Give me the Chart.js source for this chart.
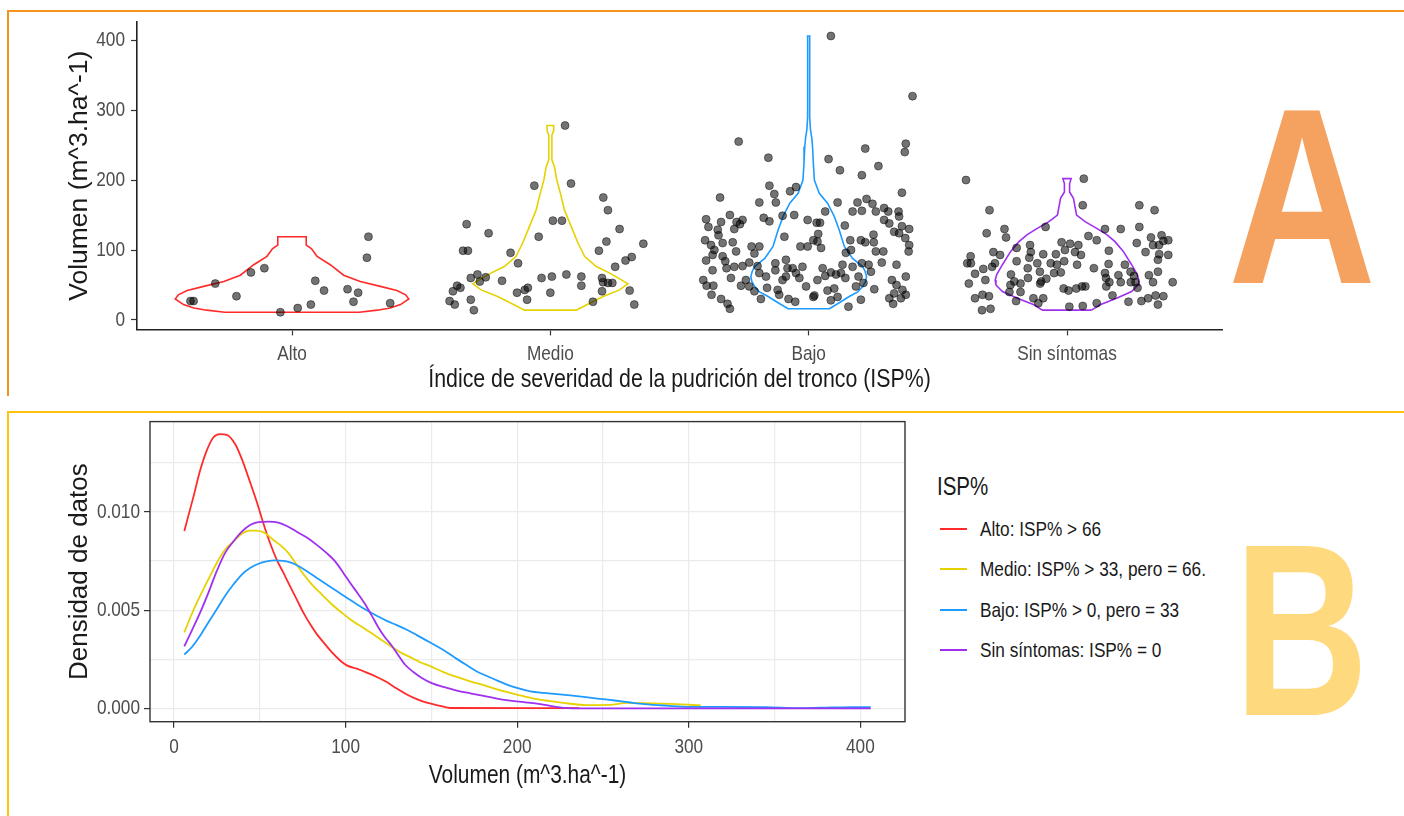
<!DOCTYPE html>
<html lang="es">
<head>
<meta charset="utf-8">
<title>Volumen según el índice de severidad de la pudrición del tronco</title>
<script src="https://cdn.jsdelivr.net/npm/chart.js@4.4.1/dist/chart.umd.min.js"></script>
<style>
	html, body { margin: 0; padding: 0; background: #fff; }
	body {
		width: 1404px;
		height: 816px;
		position: relative;
		overflow: hidden;
		font-family: 'Liberation Sans Narrow', 'Liberation Sans', Arial, sans-serif;
	}
	.rule { position: absolute; }
	.rule.orange { background: #f5931f; }
	.rule.yellow { background: #ffc20e; }
	canvas { position: absolute; }
	#violinChart { left: 0; top: 0; }
	#densityChart { left: 0; top: 405px; }
	.panel-letter {
		position: absolute;
		font-family: 'Liberation Sans', Arial, sans-serif;
		font-weight: bold;
		transform-origin: 0 0;
	}
	#letterA { left: 1228px; top: 72px; font-size: 250px; line-height: 250px; color: #f5a160; transform: scaleX(0.82); }
	#letterB { left: 1234px; top: 508px; font-size: 245px; line-height: 245px; color: #ffd97e; transform: scaleX(0.76); }
	.legend { position: absolute; left: 937px; top: 470px; color: #1a1a1a; }
	.legend .squeeze { transform: scaleX(0.82); transform-origin: 0 50%; white-space: nowrap; }
	.legend-title { position: absolute; left: 0; top: 0; font-size: 25px; line-height: 32px; }
	.legend-item { position: absolute; left: 3px; font-size: 21px; line-height: 26px; }
	.legend-item .swatch { position: absolute; left: 0; top: 12px; width: 27px; height: 2px; }
	.legend-item .label { position: absolute; left: 40px; top: 0; }
</style>
</head>
<body>

<div class="rule orange" style="left:7px; top:10px; width:1397px; height:2px;"></div>
<div class="rule orange" style="left:7px; top:10px; width:2px; height:386px;"></div>
<div class="rule yellow" style="left:7px; top:411px; width:1397px; height:2px;"></div>
<div class="rule yellow" style="left:7px; top:411px; width:2px; height:405px;"></div>

<canvas id="violinChart" width="1240" height="400"></canvas>
<canvas id="densityChart" width="920" height="411"></canvas>

<div class="legend" id="legend"></div>

<div class="panel-letter" id="letterA">A</div>
<div class="panel-letter" id="letterB">B</div>

<script>
// Categories and colours
const CATEGORIES = ['Alto', 'Medio', 'Bajo', 'Sin síntomas'];
const LEGEND_LABELS = [
	'Alto: ISP% > 66',
	'Medio: ISP% > 33, pero = 66.',
	'Bajo: ISP% > 0, pero = 33',
	'Sin síntomas: ISP% = 0',
];
const COLORS = ['#ff2b2b', '#e6d200', '#1f9bff', '#a030f0'];

// Panel A: jittered observations (offset from category centre, volume)
const ALTO_JIT = [0.296, 0.29, -0.107, -0.159, -0.297, 0.09, 0.124, -0.215, 0.215, 0.256, 0.238, 0.38, -0.393, -0.381, 0.073, 0.022, -0.045];
const ALTO_VOL = [119, 89, 74, 68, 52, 56, 42, 34, 44, 39, 26, 24, 27, 27, 22, 17, 11];

const MEDIO_JIT = [0.057, -0.062, 0.08, 0.205, 0.223, 0.01, 0.045, 0.268, -0.324, -0.239, -0.045, 0.217, 0.36, 0.188, -0.338, -0.319, -0.154, 0.315, 0.291, -0.125, 0.251, 0.062, 0.006, -0.034, 0.12, 0.12, 0.2, 0.204, 0.223, 0.24, 0.2, -0.282, -0.308, -0.273, -0.25, -0.187, -0.361, -0.348, -0.377, -0.39, -0.37, -0.308, -0.296, -0.129, -0.099, -0.087, -0.09, 0, 0.165, 0.307, 0.325];
const MEDIO_VOL = [278, 192, 195, 175, 157, 142, 142, 130, 137, 124, 119, 112, 109, 99, 99, 99, 96, 90, 85, 81, 76, 65, 62, 60, 62, 49, 60, 54, 53, 53, 41, 65, 60, 55, 61, 56, 49, 46, 41, 27, 22, 29, 14, 39, 43, 46, 29, 39, 26, 42, 22];

const BAJO_JIT = [
	-0.271, -0.156, -0.152, -0.133, -0.127, -0.072, -0.049, -0.343, -0.191, -0.397, -0.305, -0.339, -0.279, -0.256, -0.266, -0.288, -0.174, -0.152, -0.101, -0.056,
	-0.004, 0.031, -0.388, -0.352, -0.349, -0.401, -0.333, -0.294, -0.281, -0.221, -0.191, -0.094, -0.032, -0.004, 0.018, -0.378, -0.365, -0.397, -0.372, -0.333,
	-0.323, -0.318, -0.301, -0.372, -0.408, -0.395, -0.369, -0.376, -0.339, -0.314, -0.305, -0.288, -0.256, -0.23, -0.21, -0.198, -0.191, -0.165, -0.262, -0.243,
	-0.23, -0.21, -0.185, -0.161, -0.129, -0.129, -0.088, -0.082, -0.088, -0.101, -0.12, -0.114, -0.078, -0.052, -0.062, -0.049, -0.024, -0.036, -0.01, 0.022,
	0.034, 0.034,
	0.086, 0.402, 0.376, 0.372, 0.219, 0.077, 0.27, 0.121, 0.206, 0.361, 0.112, 0.189, 0.224, 0.247, 0.17, 0.206, 0.26, 0.292, 0.308, 0.348,
	0.292, 0.312, 0.35, 0.331, 0.35, 0.361, 0.389, 0.374, 0.389, 0.387, 0.044, 0.064, 0.14, 0.037, 0.048, 0.161, 0.202, 0.219, 0.251, 0.252,
	0.26, 0.289, 0.283, 0.34, 0.144, 0.164, 0.131, 0.17, 0.206, 0.232, 0.241, 0.054, 0.064, 0.086, 0.106, 0.125, 0.142, 0.193, 0.183, 0.212,
	0.254, 0.322, 0.34, 0.376, 0.363, 0.376, 0.357, 0.331, 0.312, 0.327, 0.073, 0.099, 0.086, 0.112, 0.154, 0.202, 0.018,
];
const BAJO_VOL = [
	255, 232, 192, 180, 168, 184, 190, 175, 168, 144, 150, 140, 140, 143, 137, 130, 146, 141, 149, 150,
	143, 139, 133, 129, 121, 114, 110, 111, 98, 105, 105, 119, 105, 105, 114, 107, 100, 85, 93, 91,
	84, 74, 60, 71, 57, 49, 49, 36, 30, 23, 16, 76, 77, 82, 95, 77, 67, 62, 49, 57,
	48, 41, 30, 46, 81, 71, 86, 74, 62, 57, 43, 36, 30, 26, 74, 67, 76, 60, 48, 35,
	57, 112,
	406, 320, 252, 240, 245, 230, 220, 214, 207, 182, 168, 168, 173, 166, 155, 156, 155, 160, 155, 155,
	143, 138, 148, 126, 124, 134, 130, 117, 107, 98, 139, 155, 135, 123, 103, 114, 114, 111, 122, 111,
	98, 98, 82, 79, 96, 100, 79, 76, 81, 79, 69, 74, 63, 68, 65, 67, 60, 62, 48, 53,
	44, 57, 50, 62, 43, 36, 31, 38, 31, 23, 42, 45, 28, 33, 19, 29, 33,
];

const SIN_JIT = [
	-0.391, 0.065, 0.061, -0.3, 0.28, 0.339, -0.083, -0.242, -0.311, -0.236, 0.147, 0.208, 0.28, 0.083, 0.115, 0.325, 0.366, 0.373, 0.392, 0.27,
	0.333, 0.356, -0.195, -0.143, -0.021, 0.012, 0.044, -0.285, -0.259, -0.373, -0.14, -0.092, -0.043, -0.008, 0.031, 0.054, 0.162, 0.304, 0.357, 0.392,
	0.352, -0.386, -0.372, -0.279, -0.195, -0.146, -0.115, -0.063, -0.039, -0.011, 0.039, 0.161, 0.224, 0.352, -0.324, -0.29, -0.152, -0.105, -0.05, -0.024,
	0.104, 0.147, 0.199, 0.246, 0.259, 0.317, -0.356, -0.316, -0.217, -0.204, -0.151, -0.1, -0.08, 0.151, 0.164, 0.208, 0.247, 0.265, 0.333, 0.409,
	-0.38, -0.219, -0.18, -0.104, -0.013, 0.006, 0.036, 0.058, 0.071, 0.152, 0.176, 0.238, 0.273, -0.223, -0.18, -0.197, -0.13, -0.111, -0.092, 0.009,
	0.061, 0.115, -0.356, -0.327, -0.302, -0.329, -0.296, 0.288, 0.314, 0.343, 0.373, 0.352,
];
const SIN_VOL = [
	200, 202, 164, 157, 164, 157, 133, 130, 124, 118, 130, 130, 133, 120, 114, 118, 121, 113, 114, 110,
	107, 107, 103, 107, 111, 109, 107, 97, 93, 91, 97, 94, 94, 100, 97, 93, 99, 97, 94, 93,
	86, 81, 81, 81, 84, 89, 81, 81, 79, 84, 79, 80, 79, 69, 73, 76, 74, 69, 67, 68,
	74, 67, 64, 69, 63, 64, 66, 57, 65, 55, 60, 55, 59, 60, 54, 54, 54, 54, 54, 54,
	52, 50, 52, 52, 45, 42, 45, 48, 48, 48, 35, 26, 46, 40, 40, 27, 31, 24, 31, 19,
	20, 24, 31, 36, 34, 14, 16, 27, 31, 35, 34, 22,
];

// Panel A: violin outlines (volume level, half width in category units)
const ALTO_VIOLIN_Y = [11, 14, 17, 22, 30, 36, 42, 48, 55, 64, 79, 91, 102, 107, 119];
const ALTO_VIOLIN_W = [0.26, 0.33, 0.38, 0.42, 0.452, 0.44, 0.406, 0.342, 0.264, 0.2, 0.148, 0.097, 0.075, 0.055, 0.055];
const MEDIO_VIOLIN_Y = [14, 24, 33.5, 43, 51.6, 57.4, 67, 76.4, 90.6, 110, 133.5, 157, 181, 200, 219, 229, 264, 270, 278];
const MEDIO_VIOLIN_W = [0.1, 0.152, 0.204, 0.268, 0.3, 0.275, 0.23, 0.178, 0.133, 0.107, 0.081, 0.055, 0.039, 0.025, 0.016, 0.006, 0.006, 0.012, 0.013];
const BAJO_VIOLIN_Y = [16, 25, 33.5, 40, 47.8, 55, 62, 70, 76.4, 88, 105, 129, 148, 167, 181, 200, 225, 248, 260, 272, 290, 406];
const BAJO_VIOLIN_W = [0.08, 0.12, 0.157, 0.19, 0.209, 0.22, 0.224, 0.218, 0.209, 0.17, 0.138, 0.118, 0.099, 0.073, 0.041, 0.022, 0.018, 0.015, 0.012, 0.007, 0.004, 0.004];
const SIN_VIOLIN_Y = [14, 21.7, 31, 40.7, 50, 57, 65, 79, 98, 112, 122, 131, 140.6, 150, 174, 183, 195, 202];
const SIN_VIOLIN_W = [0.095, 0.128, 0.192, 0.25, 0.275, 0.278, 0.272, 0.25, 0.218, 0.186, 0.154, 0.115, 0.07, 0.037, 0.025, 0.01, 0.01, 0.016];

const VOLUME_TICKS = [0, 100, 200, 300, 400];
const CATEGORY_TICKS = [1, 2, 3, 4];

// Panel B: density estimates (volume, density)
const ALTO_DX = [6, 11.3, 15.2, 19, 22.9, 26.8, 30.7, 35.6, 39.5, 44.3, 48.2, 52.1, 56, 59.9, 63.8, 67.6, 71.5, 75.4, 79.3, 83.2, 87.1, 91.9, 96.8, 100.7, 106.5, 112.3, 118.2, 124, 129.8, 135.7, 141.5, 147.3, 155.1, 161, 236];
const ALTO_DY = [0.00903, 0.01076, 0.0121, 0.0131, 0.01378, 0.01395, 0.01392, 0.01345, 0.01269, 0.01151, 0.01051, 0.00941, 0.0084, 0.00756, 0.00689, 0.00622, 0.00555, 0.00487, 0.00429, 0.00378, 0.00336, 0.00286, 0.00244, 0.00219, 0.00202, 0.00182, 0.0016, 0.00134, 0.00101, 0.00071, 0.00047, 0.00029, 0.00013, 0.00002, 0.00001];

const MEDIO_DX = [6, 10.3, 15.2, 20, 24.9, 29.7, 34.6, 39.5, 44.3, 48.2, 53.1, 57.9, 62.8, 66.7, 71.5, 76.4, 81.2, 86.1, 91.9, 97.8, 102.6, 108.4, 114.3, 120.1, 125.9, 131.8, 137.6, 143.4, 149.3, 157, 164.8, 172.6, 180.4, 188.2, 195.9, 203.7, 211.5, 219.3, 230, 240, 254, 264, 274, 293, 307];
const MEDIO_DY = [0.00387, 0.00479, 0.00572, 0.00656, 0.0074, 0.00807, 0.00849, 0.00888, 0.00904, 0.00904, 0.00891, 0.00857, 0.00824, 0.0079, 0.00731, 0.00672, 0.00622, 0.0058, 0.0053, 0.00487, 0.00454, 0.0042, 0.00387, 0.00353, 0.00319, 0.00286, 0.00261, 0.00235, 0.00215, 0.00185, 0.0016, 0.00138, 0.00118, 0.00097, 0.00079, 0.00062, 0.00047, 0.00037, 0.00025, 0.00017, 0.00018, 0.00028, 0.00027, 0.00022, 0.00015];

const BAJO_DX = [6, 10.3, 15.2, 20, 24.9, 29.7, 34.6, 39.5, 44.3, 49.2, 54, 58.9, 63.8, 68.6, 73.5, 78.3, 83.2, 89, 94.8, 100.7, 106.5, 112.3, 118.2, 124, 129.8, 135.7, 141.5, 147.3, 153.2, 159, 164.8, 170.7, 176.5, 182.3, 188.1, 194, 199.8, 207.6, 215.4, 223.1, 230.9, 240, 250, 258, 266, 274, 287, 300, 320, 345, 365, 383, 395, 406];
const BAJO_DY = [0.00274, 0.00311, 0.0037, 0.00437, 0.00504, 0.00572, 0.0063, 0.00681, 0.00714, 0.00736, 0.00748, 0.00753, 0.00751, 0.0074, 0.00719, 0.00693, 0.00664, 0.0063, 0.00597, 0.00563, 0.0053, 0.00499, 0.00471, 0.00445, 0.00424, 0.004, 0.00373, 0.00345, 0.00316, 0.00286, 0.00252, 0.00219, 0.00188, 0.00165, 0.00143, 0.00121, 0.00104, 0.00087, 0.00079, 0.00073, 0.00066, 0.00057, 0.00047, 0.00039, 0.0003, 0.00022, 0.00014, 0.00008, 0.00008, 0.00006, 0.00001, 0.00005, 0.00007, 0.00007];

const SIN_DX = [6, 10.3, 15.2, 20, 24.9, 29.7, 34.6, 39.5, 44.3, 49.2, 55, 60.8, 65.7, 71.5, 77.4, 83.2, 89, 93.9, 98.7, 102.6, 107.5, 111.4, 115.3, 119.1, 123, 126.9, 130.8, 134.7, 139.5, 144.4, 150.2, 157, 164.8, 172.6, 180.4, 188.2, 195.9, 203.7, 211.5, 219.3, 227, 240, 300, 406];
const SIN_DY = [0.00316, 0.00395, 0.00487, 0.00588, 0.00698, 0.0079, 0.00849, 0.00899, 0.00933, 0.00948, 0.0095, 0.00945, 0.00928, 0.00899, 0.00869, 0.00832, 0.0079, 0.00748, 0.00689, 0.00639, 0.0058, 0.0053, 0.00471, 0.00412, 0.00361, 0.00319, 0.00269, 0.00222, 0.00185, 0.00155, 0.00129, 0.00109, 0.00091, 0.00077, 0.00064, 0.0005, 0.0004, 0.00032, 0.00024, 0.00013, 0.00003, 0, 0, 0];

const DENSITY_X_TICKS = [0, 50, 100, 150, 200, 250, 300, 350, 400];
const DENSITY_X_LABELS = ['0', '', '100', '', '200', '', '300', '', '400'];
const DENSITY_Y_TICKS = [0, 0.0025, 0.005, 0.0075, 0.01, 0.0125];
const DENSITY_Y_LABELS = ['0.000', '', '0.005', '', '0.010', ''];

// Shared styling
const NARROW = "'Liberation Sans Narrow', 'Liberation Sans', Arial, sans-serif";
const REGULAR = "'Liberation Sans', Arial, sans-serif";
const NARROW_SCALE = 0.82;
const TICK_COLOR = '#4d4d4d';
const TITLE_COLOR = '#1a1a1a';

Chart.defaults.font.family = NARROW;
Chart.defaults.animation = false;

// Helpers
function fixedTicks(values) {
	return (scale) => {
		scale.ticks = values.map((value) => ({ value }));
	};
}

function jitterPoints(center, offsets, values) {
	return values.map((y, i) => ({ x: center + offsets[i], y }));
}

function violinOutline(center, levels, widths) {
	const right = levels.map((y, i) => ({ x: center + widths[i], y }));
	const left = levels.map((y, i) => ({ x: center - widths[i], y })).reverse();
	return [...right, ...left, right[0]];
}

function pairs(xs, ys) {
	return xs.map((x, i) => ({ x, y: ys[i] }));
}

// The narrow face is often missing, so squeeze the regular one while the chart draws
const narrowText = {
	id: 'narrowText',
	beforeDraw(chart) {
		const ctx = chart.ctx;
		const fillText = CanvasRenderingContext2D.prototype.fillText;
		ctx.fillText = function (text, x, y, maxWidth) {
			if (!this.font.includes('Narrow')) {
				return maxWidth === undefined ? fillText.call(this, text, x, y) : fillText.call(this, text, x, y, maxWidth);
			}
			const w = this.measureText(text).width * NARROW_SCALE;
			return fillText.call(this, text, x, y, maxWidth === undefined ? w : Math.min(w, maxWidth));
		};
	},
	afterDraw(chart) {
		delete chart.ctx.fillText;
	},
};

// Box around the density panel
const panelBox = {
	id: 'panelBox',
	afterDraw(chart) {
		const { ctx, chartArea: a } = chart;
		ctx.save();
		ctx.strokeStyle = '#333';
		ctx.lineWidth = 1.4;
		ctx.strokeRect(a.left, a.top, a.right - a.left, a.bottom - a.top);
		ctx.restore();
	},
};

// Panel A: violins with jittered points
const jitter = [
	jitterPoints(1, ALTO_JIT, ALTO_VOL),
	jitterPoints(2, MEDIO_JIT, MEDIO_VOL),
	jitterPoints(3, BAJO_JIT, BAJO_VOL),
	jitterPoints(4, SIN_JIT, SIN_VOL),
];
const violins = [
	violinOutline(1, ALTO_VIOLIN_Y, ALTO_VIOLIN_W),
	violinOutline(2, MEDIO_VIOLIN_Y, MEDIO_VIOLIN_W),
	violinOutline(3, BAJO_VIOLIN_Y, BAJO_VIOLIN_W),
	violinOutline(4, SIN_VIOLIN_Y, SIN_VIOLIN_W),
];

new Chart(document.getElementById('violinChart'), {
	type: 'scatter',
	data: {
		datasets: [
			...violins.map((data, i) => ({
				label: CATEGORIES[i],
				data,
				showLine: true,
				borderColor: COLORS[i],
				borderWidth: 1.6,
				pointRadius: 0,
				fill: false,
				order: 1,
			})),
			...jitter.map((data, i) => ({
				label: CATEGORIES[i] + ' obs',
				data,
				pointRadius: 4,
				pointBackgroundColor: 'rgba(0, 0, 0, 0.55)',
				pointBorderColor: 'rgba(0, 0, 0, 0.45)',
				pointBorderWidth: 1,
				order: 0,
			})),
		],
	},
	options: {
		responsive: false,
		layout: { padding: { top: 22, right: 18, left: 0, bottom: 0 } },
		plugins: { legend: { display: false }, tooltip: { enabled: false } },
		scales: {
			x: {
				type: 'linear',
				min: 0.4,
				max: 4.6,
				afterBuildTicks: fixedTicks(CATEGORY_TICKS),
				afterFit: (scale) => { scale.height = 70.6; },
				ticks: {
					callback: (v, i) => CATEGORIES[i],
					color: TICK_COLOR,
					font: { size: 21 },
					padding: 6,
					maxRotation: 0,
					autoSkip: false,
				},
				grid: { drawOnChartArea: false, tickLength: 6, color: '#333', tickWidth: 1.2 },
				border: { color: '#222', width: 1.6 },
				title: {
					display: true,
					text: 'Índice de severidad de la pudrición del tronco (ISP%)',
					color: TITLE_COLOR,
					font: { size: 26 },
					padding: { bottom: 5 },
				},
			},
			y: {
				min: -13.5,
				max: 426,
				afterBuildTicks: fixedTicks(VOLUME_TICKS),
				afterFit: (scale) => { scale.width = 137; },
				ticks: { color: TICK_COLOR, font: { size: 21 }, padding: 6 },
				grid: { drawOnChartArea: false, tickLength: 6, color: '#333', tickWidth: 1.2 },
				border: { color: '#222', width: 1.6 },
				title: {
					display: true,
					text: 'Volumen (m^3.ha^-1)',
					color: TITLE_COLOR,
					font: { size: 26.5, family: REGULAR },
					padding: { top: 64 },
				},
			},
		},
	},
	plugins: [narrowText],
});

// Panel B: density curves
const densities = [
	pairs(ALTO_DX, ALTO_DY),
	pairs(MEDIO_DX, MEDIO_DY),
	pairs(BAJO_DX, BAJO_DY),
	pairs(SIN_DX, SIN_DY),
];

new Chart(document.getElementById('densityChart'), {
	type: 'scatter',
	data: {
		datasets: densities.map((data, i) => ({
			label: LEGEND_LABELS[i],
			data,
			showLine: true,
			borderColor: COLORS[i],
			borderWidth: 1.8,
			pointRadius: 0,
			cubicInterpolationMode: 'monotone',
			fill: false,
			order: 3 - i,
		})),
	},
	options: {
		responsive: false,
		layout: { padding: { top: 14, right: 15, left: 0, bottom: 0 } },
		plugins: { legend: { display: false }, tooltip: { enabled: false } },
		scales: {
			x: {
				min: -14,
				max: 426,
				afterBuildTicks: fixedTicks(DENSITY_X_TICKS),
				afterFit: (scale) => { scale.height = 94.3; },
				ticks: {
					callback: (v, i) => DENSITY_X_LABELS[i],
					color: TICK_COLOR,
					font: { size: 21 },
					padding: 7,
					maxRotation: 0,
					autoSkip: false,
				},
				grid: {
					color: '#ebebeb',
					lineWidth: 1.2,
					tickLength: 6,
					tickColor: (ctx) => (DENSITY_X_LABELS[ctx.index] ? '#333' : 'rgba(0,0,0,0)'),
				},
				border: { display: false },
				title: {
					display: true,
					text: 'Volumen (m^3.ha^-1)',
					color: TITLE_COLOR,
					font: { size: 25.5 },
					padding: { bottom: 25 },
				},
			},
			y: {
				min: -0.000676,
				max: 0.01459,
				afterBuildTicks: fixedTicks(DENSITY_Y_TICKS),
				afterFit: (scale) => { scale.width = 150; },
				ticks: {
					callback: (v, i) => DENSITY_Y_LABELS[i],
					color: TICK_COLOR,
					font: { size: 21 },
					padding: 4,
					autoSkip: false,
				},
				grid: {
					color: '#ebebeb',
					lineWidth: 1.2,
					tickLength: 6,
					tickColor: (ctx) => (DENSITY_Y_LABELS[ctx.index] ? '#333' : 'rgba(0,0,0,0)'),
				},
				border: { display: false },
				title: {
					display: true,
					text: 'Densidad de datos',
					color: TITLE_COLOR,
					font: { size: 26, family: REGULAR },
					padding: { top: 64 },
				},
			},
		},
	},
	plugins: [narrowText, panelBox],
});

// Legend for panel B
const legend = document.getElementById('legend');
legend.innerHTML = '<div class="legend-title squeeze">ISP%</div>' + LEGEND_LABELS.map((text, i) => `
	<div class="legend-item" style="top:${46 + i * 40.4}px">
		<div class="swatch" style="background:${COLORS[i]}"></div>
		<div class="label squeeze">${text}</div>
	</div>`).join('');
</script>
</body>
</html>
